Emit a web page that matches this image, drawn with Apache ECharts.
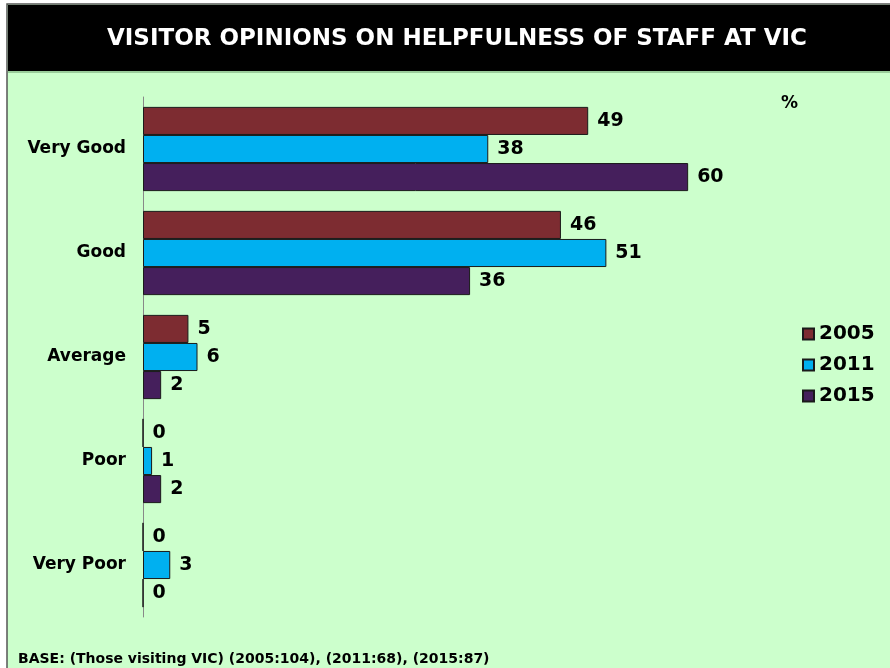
<!DOCTYPE html>
<html>
<head>
<meta charset="utf-8">
<script src="https://cdn.jsdelivr.net/npm/echarts@6/dist/echarts.min.js"></script>
<style>
  html, body { margin: 0; padding: 0; background: #ffffff; }
  #chart { width: 890px; height: 668px; }
</style>
</head>
<body>
<div id="chart"></div>
<script>
// Rating categories, top to bottom
const categories = ['Very Good', 'Good', 'Average', 'Poor', 'Very Poor'];
// Survey years
const years = ['2005', '2011', '2015'];
// Percentages per year
const values2005 = [49, 46, 5, 0, 0];
const values2011 = [38, 51, 6, 1, 3];
const values2015 = [60, 36, 2, 2, 0];
const seriesColors = ['#7D2C31', '#00B0F0', '#451F5C'];

const titleText = 'VISITOR OPINIONS ON HELPFULNESS OF STAFF AT VIC';
const footnote = 'BASE: (Those visiting VIC) (2005:104), (2011:68), (2015:87)';
const unitLabel = '%';

const FONT = 'Verdana, "DejaVu Sans", sans-serif';
const chart = echarts.init(document.getElementById('chart'), null, { renderer: 'canvas' });

const allValues = [values2005, values2011, values2015];

const option = {
  backgroundColor: '#ffffff',
  animation: false,
  graphic: [
    // page frame
    { type: 'rect', shape: { x: 7, y: 4, width: 890, height: 670 },
      style: { fill: '#CCFFCC', stroke: '#555555', lineWidth: 1.5 }, z: -10 },
    // heading band
    { type: 'rect', shape: { x: 8, y: 5, width: 890, height: 66 },
      style: { fill: '#000000' }, z: -9 },
    { type: 'rect', shape: { x: 8, y: 71, width: 890, height: 2 },
      style: { fill: '#9ACC9A' }, z: -9 },
    { type: 'text', left: 107, top: 28,
      style: { text: titleText, fill: '#ffffff', font: 'bold 23px ' + FONT } },
    { type: 'text', left: 781, top: 95,
      style: { text: unitLabel, fill: '#000000', font: 'bold 17px ' + FONT } },
    { type: 'text', left: 18, top: 652,
      style: { text: footnote, fill: '#000000', font: 'bold 14px ' + FONT } }
  ],
  legend: {
    data: years,
    orient: 'vertical',
    left: 797,
    top: 319,
    itemWidth: 11,
    itemHeight: 11,
    itemGap: 11,
    icon: 'rect',
    textStyle: { fontFamily: FONT, fontWeight: 'bold', fontSize: 20, color: '#000000' }
  },
  grid: { left: 143, right: 111, top: 97, bottom: 51, containLabel: false },
  xAxis: {
    type: 'value',
    min: 0,
    max: 70,
    show: false,
    splitLine: { show: false }
  },
  yAxis: {
    type: 'category',
    data: categories,
    inverse: true,
    axisLine: { show: true, lineStyle: { color: '#888888', width: 1 } },
    axisTick: { show: false },
    axisLabel: { fontFamily: FONT, fontWeight: 'bold', fontSize: 17, color: '#000000', margin: 17 }
  },
  series: years.map((y, i) => ({
    name: y,
    type: 'bar',
    data: allValues[i],
    barGap: '0%',
    barCategoryGap: '19%',
    itemStyle: { color: seriesColors[i], borderColor: '#1a1a1a', borderWidth: 1 },
    label: {
      show: true,
      position: 'right',
      distance: 9,
      fontFamily: FONT,
      fontWeight: 'bold',
      fontSize: 19,
      color: '#000000'
    }
  }))
};

chart.setOption(option);
</script>
</body>
</html>
